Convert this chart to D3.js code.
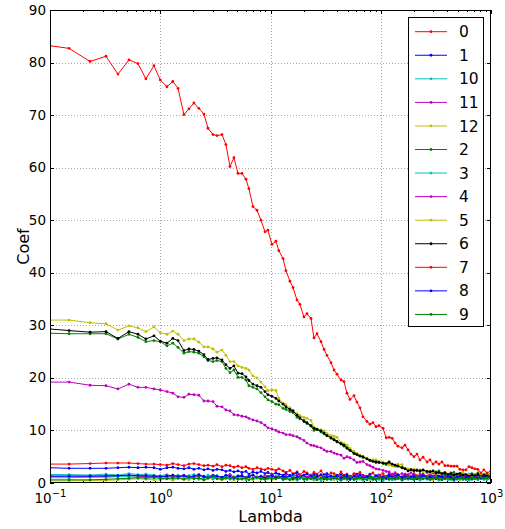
<!DOCTYPE html>
<html>
<head>
<meta charset="utf-8">
<script src="https://cdn.jsdelivr.net/npm/d3@7"></script>
<style>
  html, body { margin: 0; padding: 0; background: #fff; }
  svg { display: block; font-family: "DejaVu Sans", sans-serif; }
</style>
</head>
<body>
<svg id="chart" width="505" height="529"></svg>
<script>
// Regularisation strengths along the path
const lambdas = [
  0.1, 0.149, 0.231, 0.322, 0.413, 0.52, 0.628, 0.741, 0.877, 1.0,
  1.15, 1.3, 1.45, 1.64, 1.82, 2.02, 2.24, 2.49, 2.71, 3.01,
  3.27, 3.63, 3.94, 4.29, 4.66, 5.07, 5.51, 5.99, 6.37, 6.93,
  7.54, 8.19, 8.91, 9.48, 10.3, 11.2, 11.9, 13.0, 13.8, 15.0,
  16.0, 17.4, 18.5, 20.1, 21.4, 23.3, 24.8, 26.4, 28.7, 30.6,
  32.5, 35.4, 37.7, 40.1, 43.6, 46.4, 49.4, 52.6, 57.2, 60.8,
  64.8, 69.0, 75.0, 79.8, 85.0, 90.5, 96.4, 105, 112, 119,
  127, 135, 143, 156, 166, 177, 188, 200, 213, 227,
  242, 263, 280, 298, 317, 337, 359, 382, 407, 433,
  461, 491, 522, 556, 592, 631, 671, 714, 760, 810,
  862, 918, 1000
];

// Coefficient paths, one array per feature
const coef0 = [
  3.6, 3.6, 3.7, 3.8, 3.8, 3.8, 3.7, 3.6, 3.6, 3.5,
  3.4, 3.7, 3.5, 3.3, 3.6, 3.7, 3.5, 3.3, 3.4, 3.2, 3.5, 3.1, 3.4, 3.3, 3.0, 3.2, 2.9, 3.1, 2.8, 2.6, 2.9, 2.7, 2.5, 2.8, 2.6, 2.4, 2.7, 2.3,
  2.0, 2.4, 1.8, 2.1, 1.6, 2.2, 1.9, 1.5, 2.0, 1.7, 2.3, 1.6, 1.4, 1.9, 1.8, 1.3, 2.1, 1.5, 1.7, 1.2,
  1.8, 1.6, 2.0, 1.4, 1.3, 1.7, 1.9, 1.2, 1.5, 1.8, 1.1, 1.6, 1.4, 1.9, 1.3, 1.0, 1.7, 1.5, 1.2, 1.8,
  1.4, 1.1, 1.6, 1.3, 1.9, 1.2, 1.5, 1.0, 1.7, 1.4, 1.2, 1.6, 1.1, 1.5, 1.3, 1.8, 1.0, 1.4, 1.2, 1.6,
  1.1, 1.3, 1.5, 1.2, 1.4
];
const coef1 = [
  2.9, 2.8, 2.8, 2.8, 2.9, 3.0, 2.9, 3.0, 2.9, 2.6,
  2.9, 3.0, 2.8, 2.7, 2.9, 2.6, 2.8, 2.5, 2.7, 2.4, 2.6, 2.5, 2.2, 2.4, 2.1, 2.3, 2.0, 2.2, 1.7, 2.1, 1.9, 2.2, 1.8, 2.0, 1.6, 1.9, 1.7, 1.5,
  1.8, 1.4, 1.6, 1.9, 1.3, 1.5, 1.7, 1.2, 1.6, 1.4, 1.1, 1.5, 1.8, 1.3, 1.0, 1.4, 1.6, 1.2, 1.5, 1.1,
  1.3, 1.7, 1.0, 1.4, 1.2, 1.6, 0.9, 1.3, 1.5, 1.1, 1.2, 1.6, 1.0, 1.4, 1.3, 0.9, 1.5, 1.1, 1.2, 1.4,
  1.0, 1.3, 1.6, 1.1, 1.2, 0.9, 1.4, 1.3, 1.0, 1.5, 1.1, 1.2, 0.9, 1.3, 1.4, 1.0, 1.2, 1.1, 1.5, 0.9,
  1.3, 1.0, 1.2, 1.1, 1.0
];
const coef10 = [
  1.6, 1.6, 1.5, 1.7, 1.5, 1.8, 1.6, 1.7, 1.5, 1.4,
  1.6, 1.3, 1.5, 1.2, 1.4, 1.6, 1.3, 1.1, 1.5, 1.2, 1.4, 1.0, 1.3, 1.6, 1.1, 1.4, 1.2, 0.9, 1.3, 1.5, 1.0, 1.2, 1.4, 0.8, 1.1, 1.3, 1.0, 1.2,
  0.9, 1.3, 0.7, 1.1, 1.2, 0.8, 1.0, 1.4, 0.6, 1.1, 0.9, 1.2, 0.7, 1.0, 1.3, 0.8, 0.9, 1.1, 0.6, 1.2,
  1.0, 0.8, 1.3, 0.7, 1.0, 0.9, 1.1, 0.6, 1.2, 0.8, 1.0, 0.7, 1.1, 0.9, 1.3, 0.6, 1.0, 0.8, 1.2, 0.7,
  0.9, 1.1, 0.8, 1.0, 0.6, 1.2, 0.9, 0.7, 1.1, 0.8, 1.0, 0.9, 0.6, 1.1, 0.8, 1.0, 0.7, 0.9, 1.2, 0.8,
  0.7, 1.0, 0.9, 0.8, 1.0
];
const coef11 = [
  1.3, 1.3, 1.3, 1.2, 1.3, 1.4, 1.3, 1.2, 1.3, 1.2,
  1.4, 1.1, 1.3, 1.5, 1.2, 1.0, 1.4, 1.3, 1.1, 1.5, 1.2, 1.0, 1.3, 1.6, 1.1, 1.2, 1.4, 1.0, 1.3, 1.5, 1.1, 0.9, 1.4, 1.2, 1.7, 1.0, 1.3, 1.1,
  1.4, 1.0, 1.2, 1.6, 0.9, 1.3, 1.1, 1.5, 0.8, 1.2, 1.4, 1.0, 1.3, 0.9, 1.1, 1.5, 1.2, 0.8, 1.0, 1.3,
  1.1, 1.4, 0.9, 1.2, 1.0, 1.3, 0.8, 1.1, 1.5, 1.0, 1.2, 0.9, 1.3, 1.1, 0.8, 1.2, 1.4, 1.0, 0.9, 1.1,
  1.3, 0.8, 1.2, 1.0, 1.1, 0.9, 1.3, 1.0, 0.8, 1.2, 1.1, 0.9, 1.0, 1.2, 0.8, 1.1, 1.0, 0.9, 1.2, 1.0,
  0.8, 1.1, 0.9, 1.0, 1.1
];
const coef12 = [
  0.4, 0.4, 0.5, 0.5, 0.6, 0.7, 0.8, 0.7, 0.6, 0.6,
  0.8, 0.5, 0.9, 0.7, 0.6, 1.0, 0.8, 0.5, 0.9, 0.7, 1.1, 0.6, 0.8, 0.9, 0.5, 1.0, 0.7, 0.8, 1.1, 0.6, 0.9, 0.7, 1.0, 0.8, 0.6, 0.9, 1.2, 0.7,
  0.8, 1.0, 0.6, 0.9, 1.1, 0.7, 0.8, 1.0, 0.5, 0.9, 1.2, 0.7, 0.8, 1.0, 0.6, 0.9, 0.7, 1.1, 0.8, 0.6,
  1.0, 0.9, 0.7, 0.8, 1.2, 0.6, 0.9, 1.0, 0.7, 0.8, 0.9, 1.1, 0.6, 0.8, 1.0, 0.7, 0.9, 0.8, 1.1, 0.6,
  0.9, 0.7, 1.0, 0.8, 0.9, 0.6, 1.0, 0.8, 0.7, 0.9, 1.1, 0.7, 0.8, 1.0, 0.6, 0.9, 0.8, 1.0, 0.7, 0.9,
  0.8, 1.0, 0.7, 0.9, 0.8
];
const coef2 = [
  28.5, 28.4, 28.4, 28.4, 27.4, 28.3, 27.7, 26.9, 27.1, 26.9,
  26.1, 26.6, 25.8, 24.7, 25.0, 24.9, 24.7, 24.0, 23.3, 23.1,
  23.3, 23.1, 21.8, 21.0, 21.5, 20.1, 20.1, 19.6, 18.5, 18.2,
  17.9, 17.2, 16.4, 15.8, 15.5, 15.0, 14.9, 14.2, 14.0, 13.6,
  13.4, 12.5, 12.2, 11.9, 11.3, 10.8, 10.0, 10.2, 9.7, 9.3,
  9.1, 8.5, 8.3, 7.8, 7.4, 7.0, 6.8, 6.3, 5.8, 5.5,
  5.2, 4.8, 4.6, 4.3, 4.2, 3.9, 4.0, 3.7, 3.5, 3.8,
  3.4, 3.2, 3.3, 2.9, 2.8, 2.5, 2.6, 2.3,
  2.5, 2.2, 2.4, 2.0, 2.2, 1.9, 2.1, 2.3, 1.8, 2.0, 1.7, 1.9, 2.0, 1.6, 1.8, 1.9, 1.5, 1.7, 1.8, 1.6,
  1.9, 1.5, 1.7, 1.6, 1.8
];
const coef3 = [
  1.0, 1.0, 1.1, 1.1, 1.2, 1.2, 1.1, 1.0, 1.1, 0.9,
  1.1, 0.8, 1.0, 1.2, 0.9, 1.1, 0.7, 1.0, 1.3, 0.8, 1.0, 0.9, 1.2, 0.7, 1.1, 0.9, 1.0, 0.6, 1.2, 0.8, 1.0, 1.1, 0.7, 0.9, 1.0, 0.8, 1.2, 0.6,
  0.9, 0.7, 1.1, 0.5, 0.8, 1.0, 0.6, 0.9, 0.7, 1.1, 0.4, 0.8, 0.9, 0.6, 1.0, 0.7, 0.5, 0.9, 0.8, 1.1,
  0.6, 0.7, 0.9, 0.5, 1.0, 0.8, 0.6, 0.9, 0.7, 0.4, 0.8, 1.0, 0.6, 0.7, 0.9, 0.5, 0.8, 0.7, 1.0, 0.6,
  0.8, 0.5, 0.9, 0.7, 0.6, 0.8, 1.0, 0.5, 0.7, 0.9, 0.6, 0.8, 0.4, 0.7, 0.9, 0.6, 0.8, 0.5, 0.7, 0.8,
  0.6, 0.9, 0.7, 0.6, 0.8
];
const coef4 = [
  19.2, 19.2, 18.6, 18.5, 17.9, 18.8, 18.2, 18.2, 17.9, 17.7,
  17.4, 17.1, 16.4, 16.3, 16.9, 16.8, 16.7, 15.6, 15.6, 15.5,
  14.6, 14.5, 13.9, 13.7, 13.0, 12.9, 12.7, 12.6, 12.3, 12.0,
  11.8, 11.5, 11.0, 10.5, 10.3, 10.0, 9.7, 9.5, 9.2, 9.2,
  9.0, 8.8, 8.5, 8.1, 7.6, 7.2, 7.1, 6.9, 6.7, 6.3,
  6.0, 6.0, 5.7, 5.5, 5.3, 4.7, 5.0, 4.8, 4.4, 3.9,
  4.0, 4.1, 3.5, 3.3, 3.0, 2.7, 2.6, 2.4, 2.2,
  2.1, 1.7, 1.9, 1.5, 1.8, 1.3, 1.6, 1.9, 1.4, 1.2, 1.7, 1.5, 1.1, 1.6, 1.3, 1.8, 1.2,
  1.5, 1.0, 1.4, 1.7, 1.2, 1.3, 1.6, 1.1, 1.5, 1.2, 1.4, 0.9, 1.3, 1.6, 1.2, 1.0, 1.4
];
const coef5 = [
  31.0, 31.0, 30.5, 30.3, 29.1, 29.9, 29.5, 28.8, 29.7, 28.6,
  28.3, 28.9, 28.3, 27.1, 27.4, 27.4, 26.8, 25.9, 25.9, 25.5,
  24.9, 25.3, 24.3, 23.1, 23.1, 22.3, 22.0, 21.8, 21.5, 20.4,
  20.0, 19.2, 18.3, 17.6, 17.7, 17.6, 16.1, 15.2, 14.9, 14.3,
  13.8, 13.2, 12.8, 12.5, 12.3, 11.9, 10.6, 10.3, 10.1, 9.9,
  9.4, 9.0, 8.9, 8.7, 7.7, 7.5, 7.2, 6.6, 6.0, 5.6,
  5.2, 4.9, 4.6, 4.4, 4.4, 4.4, 4.1, 3.9, 3.7, 3.4,
  3.3, 3.3, 3.6, 3.5, 2.8, 2.7, 2.5, 2.6,
  2.3, 2.5, 2.1, 2.2, 1.9, 2.1, 1.8, 2.0, 1.7, 1.9, 1.6, 1.8, 1.5, 1.7, 1.4, 1.9, 1.5, 1.6, 1.3, 1.7,
  1.4, 1.5, 1.6, 1.3, 1.6
];
const coef6 = [
  29.3, 29.0, 28.7, 28.8, 27.5, 28.8, 28.3, 27.4, 28.0, 27.0,
  26.6, 27.5, 27.1, 25.2, 25.5, 25.4, 25.1, 24.4, 23.5, 23.7,
  23.8, 23.4, 22.5, 21.8, 22.3, 20.9, 20.8, 20.2, 19.5, 18.8,
  18.5, 18.2, 17.4, 16.8, 16.5, 16.1, 15.6, 15.0, 14.5, 14.0,
  13.7, 12.9, 12.4, 11.7, 11.5, 10.9, 10.4, 10.2, 9.9, 9.5,
  9.0, 8.6, 8.2, 7.9, 7.5, 7.2, 6.6, 6.2, 5.6, 5.4,
  5.1, 5.0, 4.6, 4.3, 4.1, 4.0, 3.9, 3.8, 3.7, 4.0,
  3.6, 3.4, 3.2, 2.9, 2.7, 2.3, 2.5, 2.4,
  2.4, 2.3, 2.5, 2.2, 2.1, 2.3, 1.9, 2.0, 1.8, 1.9, 1.6, 1.8, 1.5, 1.7, 1.8, 1.5, 1.6, 1.3, 1.5, 1.4,
  1.6, 1.2, 1.5, 1.3, 1.4
];
const coef7 = [
  83.2, 82.7, 80.2, 81.2, 77.8, 80.5, 79.8, 76.9, 79.4, 76.7,
  75.4, 76.4, 75.1, 70.1, 71.2, 72.3, 71.3, 70.2, 67.5, 66.3,
  66.1, 66.3, 64.4, 60.2, 61.9, 58.9, 58.9, 57.8, 56.0, 52.6,
  51.9, 50.0, 47.8, 48.1, 45.4, 46.0, 44.2, 42.7, 40.4, 38.4,
  37.2, 34.8, 34.0, 31.6, 32.2, 31.3, 27.6, 28.4, 26.9, 25.4,
  24.3, 22.9, 21.5, 20.7, 19.6, 19.3, 17.1, 15.9, 16.6, 15.4,
  14.3, 12.6, 11.7, 11.2, 11.5, 10.7, 10.9, 10.4, 8.6, 8.7,
  8.5, 7.6, 7.0, 6.7, 7.2, 6.3, 5.5, 5.0, 5.5, 4.4,
  4.9, 4.0, 4.4, 3.6, 4.0, 3.6, 4.0, 3.3, 3.3, 3.2,
  3.2, 3.2, 2.6, 2.5, 2.5, 3.1, 2.9, 2.7, 2.6, 1.9,
  2.5, 1.9, 2.3
];
const coef8 = [
  1.3, 1.3, 1.3, 1.4, 1.4, 1.5, 1.4, 1.4, 1.3, 1.2,
  1.3, 1.5, 1.2, 1.4, 1.1, 1.3, 1.6, 1.2, 1.0, 1.4, 1.3, 1.1, 1.5, 1.2, 0.9, 1.3, 1.4, 1.0, 1.2, 1.5, 1.1, 1.3, 0.9, 1.2, 1.4, 1.0, 1.1, 1.3,
  1.0, 1.4, 0.8, 1.2, 1.1, 1.5, 0.9, 1.3, 1.0, 1.2, 1.6, 0.8, 1.1, 1.3, 1.0, 1.4, 0.9, 1.2, 1.1, 0.7,
  1.3, 1.0, 1.5, 0.9, 1.2, 1.1, 0.8, 1.4, 1.0, 1.2, 0.9, 1.3, 1.1, 0.8, 1.6, 1.0, 1.2, 0.9, 1.1, 1.3,
  0.8, 1.0, 1.4, 0.9, 1.2, 1.0, 0.8, 1.3, 1.1, 0.9, 1.2, 1.0, 0.7, 1.1, 1.3, 0.9, 1.0, 1.2, 0.8, 1.1,
  1.0, 0.9, 1.2, 1.0, 1.1
];
const coef9 = [
  0.6, 0.6, 0.6, 0.7, 0.8, 0.9, 1.0, 0.9, 1.0, 0.9,
  0.8, 1.0, 0.9, 0.7, 1.1, 0.8, 1.0, 0.6, 0.9, 1.2, 0.8, 0.7, 1.0, 0.9, 1.1, 0.7, 0.8, 1.0, 0.6, 0.9, 1.1, 0.8, 0.7, 1.0, 0.9, 0.8, 1.1, 0.7,
  0.9, 0.6, 1.0, 0.8, 1.2, 0.7, 0.9, 0.8, 1.1, 0.6, 0.9, 1.0, 0.7, 0.8, 1.1, 0.9, 0.6, 1.0, 0.8, 1.2,
  0.7, 0.9, 1.0, 0.8, 0.6, 1.1, 0.9, 0.7, 1.0, 0.8, 1.2, 0.7, 0.9, 0.8, 1.0, 0.6, 0.9, 1.1, 0.8, 0.7,
  1.0, 0.9, 0.8, 1.1, 0.7, 0.9, 1.0, 0.8, 0.6, 1.0, 0.9, 0.7, 1.1, 0.8, 0.9, 1.0, 0.7, 0.8, 1.0, 0.9,
  0.8, 1.1, 0.9, 1.0, 0.9
];

// Legend order (labels sorted as strings) and line colours
const seriesNames = ["0", "1", "10", "11", "12", "2", "3", "4", "5", "6", "7", "8", "9"];
const seriesValues = [coef0, coef1, coef10, coef11, coef12, coef2, coef3, coef4, coef5, coef6, coef7, coef8, coef9];
const seriesColors = ["#ff0000", "#0000ff", "#00bfbf", "#bf00bf", "#bfbf00", "#008000", "#00bfbf",
                      "#bf00bf", "#bfbf00", "#000000", "#ff0000", "#0000ff", "#008000"];

const xTicks = [0.1, 1, 10, 100, 1000];
const yTicks = [0, 10, 20, 30, 40, 50, 60, 70, 80, 90];
const xLabel = "Lambda";
const yLabel = "Coef";

// ---- layout ----
const plot = { left: 50, right: 491, top: 10, bottom: 483 };
const tickFont = 13.5;
const svg = d3.select("#chart");

const x = d3.scaleLog().domain([0.1, 1000]).range([plot.left, plot.right]);
const y = d3.scaleLinear().domain([0, 90]).range([plot.bottom, plot.top]);

// minor ticks of the log axis: 2..9 within each decade
const minorTicks = x.ticks().filter(v => !xTicks.some(t => Math.abs(t - v) < 1e-9));

// grid
const grid = svg.append("g").attr("stroke", "#a8a8a8").attr("stroke-width", 1)
  .attr("stroke-dasharray", "1,2").attr("shape-rendering", "crispEdges");
grid.selectAll("line.gx").data(xTicks.slice(1, -1)).join("line")
  .attr("x1", d => Math.round(x(d)) + 0.5).attr("x2", d => Math.round(x(d)) + 0.5)
  .attr("y1", plot.top).attr("y2", plot.bottom);
grid.selectAll("line.gy").data(yTicks.slice(1, -1)).join("line")
  .attr("y1", d => Math.round(y(d)) + 0.5).attr("y2", d => Math.round(y(d)) + 0.5)
  .attr("x1", plot.left).attr("x2", plot.right);

// data lines with point markers
svg.append("defs").append("clipPath").attr("id", "plotClip")
  .append("rect").attr("x", plot.left).attr("y", plot.top)
  .attr("width", plot.right - plot.left).attr("height", plot.bottom - plot.top);

const line = d3.line().x((d, i) => x(lambdas[i])).y(d => y(d));
const dataG = svg.append("g").attr("clip-path", "url(#plotClip)");
seriesValues.forEach((vals, k) => {
  const g = dataG.append("g");
  g.append("path").datum(vals).attr("d", line)
    .attr("fill", "none").attr("stroke", seriesColors[k]).attr("stroke-width", 1);
  g.selectAll("circle").data(vals).join("circle")
    .attr("cx", (d, i) => x(lambdas[i])).attr("cy", d => y(d))
    .attr("r", 1.4).attr("fill", seriesColors[k]);
});

// axes with inward ticks on all four sides
function styleAxis(g) {
  g.select(".domain").remove();
  g.selectAll(".tick line").attr("stroke", "#000").attr("shape-rendering", "crispEdges");
}
const axBottom = svg.append("g").attr("transform", `translate(0,${plot.bottom})`)
  .call(d3.axisBottom(x).tickValues(xTicks).tickSize(-4).tickPadding(6).tickFormat(() => ""))
  .call(styleAxis);
axBottom.selectAll(".tick text").each(function (d) {
  const t = d3.select(this).attr("font-size", tickFont).attr("fill", "#000")
    .attr("font-family", "DejaVu Sans").attr("dy", "1.0em");
  t.append("tspan").text("10");
  t.append("tspan").attr("dy", "-0.55em").attr("font-size", 10)
    .text(String(Math.round(Math.log10(d))).replace("-", "\u2212"));
});
svg.append("g").attr("transform", `translate(0,${plot.bottom})`)
  .call(d3.axisBottom(x).tickValues(minorTicks).tickSize(-2).tickFormat(() => ""))
  .call(styleAxis);
svg.append("g").attr("transform", `translate(0,${plot.top})`)
  .call(d3.axisTop(x).tickValues(xTicks).tickSize(-4).tickFormat(() => ""))
  .call(styleAxis);
svg.append("g").attr("transform", `translate(0,${plot.top})`)
  .call(d3.axisTop(x).tickValues(minorTicks).tickSize(-2).tickFormat(() => ""))
  .call(styleAxis);
svg.append("g").attr("transform", `translate(${plot.left},0)`)
  .call(d3.axisLeft(y).tickValues(yTicks).tickSize(-4).tickPadding(4).tickFormat(d3.format("d")))
  .call(styleAxis)
  .call(g => g.selectAll(".tick text").attr("font-size", tickFont).attr("fill", "#000")
    .attr("font-family", "DejaVu Sans").attr("dy", "0.3em"));
svg.append("g").attr("transform", `translate(${plot.right},0)`)
  .call(d3.axisRight(y).tickValues(yTicks).tickSize(-4).tickFormat(() => ""))
  .call(styleAxis);

// frame
svg.append("rect")
  .attr("x", plot.left + 0.5).attr("y", plot.top + 0.5)
  .attr("width", plot.right - plot.left - 1).attr("height", plot.bottom - plot.top - 1)
  .attr("fill", "none").attr("stroke", "#000").attr("stroke-width", 1);

// axis titles
svg.append("text").attr("x", (plot.left + plot.right) / 2).attr("y", 521.5)
  .attr("text-anchor", "middle").attr("font-size", 16).text(xLabel);
svg.append("text").attr("transform", `translate(29,${(plot.top + plot.bottom) / 2}) rotate(-90)`)
  .attr("text-anchor", "middle").attr("font-size", 16).text(yLabel);

// legend
const legend = { x: 408, y: 17, w: 75, h: 309, row: 23.56, first: 31.7 };
const lg = svg.append("g");
lg.append("rect").attr("x", legend.x + 0.5).attr("y", legend.y + 0.5)
  .attr("width", legend.w).attr("height", legend.h)
  .attr("fill", "#fff").attr("stroke", "#000").attr("stroke-width", 1);
seriesNames.forEach((name, k) => {
  const cy = legend.first + k * legend.row;
  lg.append("line").attr("x1", 415).attr("x2", 447).attr("y1", cy).attr("y2", cy)
    .attr("stroke", seriesColors[k]).attr("stroke-width", 1);
  lg.append("circle").attr("cx", 431).attr("cy", cy).attr("r", 1.4).attr("fill", seriesColors[k]);
  lg.append("text").attr("x", 459).attr("y", cy).attr("dy", "0.36em")
    .attr("font-size", 15.5).attr("fill", "#000").text(name);
});
</script>
</body>
</html>
